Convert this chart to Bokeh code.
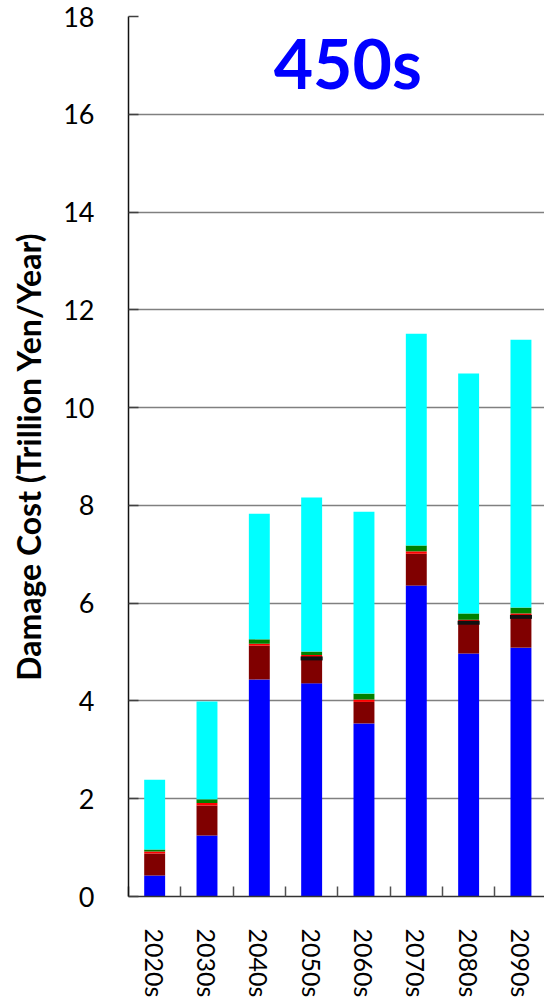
import math
from bokeh.plotting import figure
from bokeh.models import Range1d, FixedTicker, ColumnDataSource, Label
from bokeh.embed import file_html
from bokeh.resources import INLINE

# ---- data (Trillion Yen / Year), stacked components bottom -> top ----
categories = ["2020s", "2030s", "2040s", "2050s", "2060s", "2070s", "2080s", "2090s"]
blue = [0.43, 1.25, 4.44, 4.36, 3.54, 6.36, 4.97, 5.09]
dark_red = [0.45, 0.61, 0.69, 0.53, 0.44, 0.65, 0.65, 0.66]
red = [0.04, 0.05, 0.04, 0.05, 0.05, 0.05, 0.04, 0.04]
green = [0.04, 0.08, 0.09, 0.07, 0.12, 0.12, 0.13, 0.12]
cyan = [1.43, 2.00, 2.57, 3.15, 3.72, 4.33, 4.91, 5.48]
marker = [math.nan, math.nan, math.nan, 4.87, math.nan, math.nan, 5.60, 5.72]
y_ticks = [0, 2, 4, 6, 8, 10, 12, 14, 16, 18]
title_text = "450s"
y_label = "Damage Cost (Trillion Yen/Year)"

x = [i + 0.5 for i in range(len(categories))]
boundaries = [float(i) for i in range(len(categories) + 1)]

source = ColumnDataSource(dict(x=x, blue=blue, dark_red=dark_red, red=red,
                               green=green, cyan=cyan, marker=marker))

p = figure(frame_width=416, frame_height=880,
           min_border_left=128, min_border_right=0, min_border_top=16,
           x_range=Range1d(0, 7.95), y_range=Range1d(0, 18),
           output_backend="svg", toolbar_location=None)
p.outline_line_color = None
p.background_fill_color = "white"
p.border_fill_color = "white"

p.vbar_stack(["blue", "dark_red", "red", "green", "cyan"], x="x", width=0.4,
             color=["#0000FF", "#800000", "#FF0000", "#008000", "#00FFFF"],
             line_color=None, source=source)
p.scatter(x="x", y="marker", marker="dash", size=22, line_width=4,
          line_color="#111111", source=source)

# grid
p.xgrid.visible = False
p.ygrid.ticker = FixedTicker(ticks=y_ticks)
p.ygrid.grid_line_color = "#808080"
p.ygrid.grid_line_width = 1.5

# y axis
ya = p.yaxis[0]
ya.ticker = FixedTicker(ticks=y_ticks)
ya.axis_line_color = "#111111"
ya.axis_line_width = 1.5
ya.major_tick_in = 10
ya.major_tick_out = 0
ya.major_tick_line_color = "#404040"
ya.major_tick_line_width = 1.5
ya.minor_tick_line_color = None
ya.major_label_text_font = "Lato"
ya.major_label_text_font_size = "27px"
ya.major_label_text_color = "black"
ya.major_label_standoff = 34
ya.axis_label = y_label
ya.axis_label_text_font = "Lato"
ya.axis_label_text_font_style = "bold"
ya.axis_label_text_font_size = "32px"
ya.axis_label_text_color = "black"
ya.axis_label_standoff = 12

# x axis: labels at centers, ticks at category boundaries
xa = p.xaxis[0]
xa.ticker = FixedTicker(ticks=x, minor_ticks=boundaries)
xa.major_label_overrides = {xi: c for xi, c in zip(x, categories)}
xa.major_label_orientation = "vertical"
xa.major_tick_in = 0
xa.major_tick_out = 0
xa.minor_tick_in = 10
xa.minor_tick_out = 0
xa.minor_tick_line_color = "#505050"
xa.minor_tick_line_width = 1.5
xa.axis_line_color = "#333333"
xa.axis_line_width = 1.5
xa.major_label_text_font = "Lato"
xa.major_label_text_font_size = "25px"
xa.major_label_text_color = "black"
xa.major_label_standoff = 32

p.add_layout(Label(x=4.19, y=17.05, text=title_text, text_font="Lato",
                   text_font_style="bold", text_font_size="68px",
                   text_color="#0000FF", text_align="center",
                   text_baseline="middle"))

open("out.html", "w").write(file_html(p, INLINE))
